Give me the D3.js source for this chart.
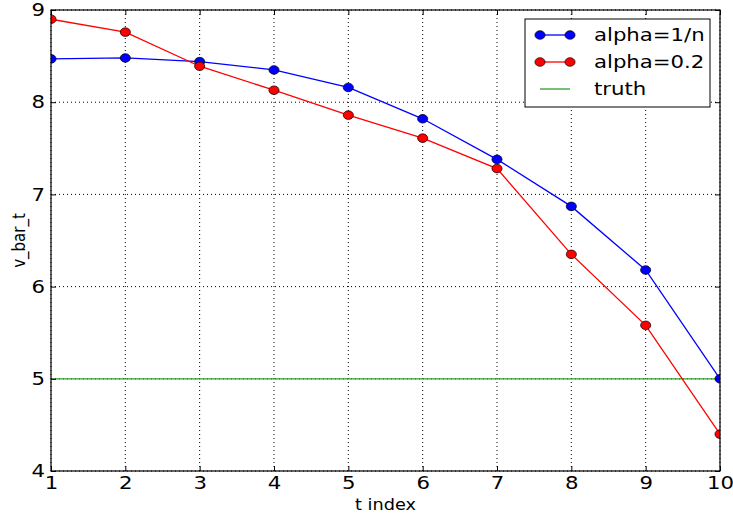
<!DOCTYPE html>
<html>
<head>
<meta charset="utf-8">
<script src="https://cdn.jsdelivr.net/npm/d3@7"></script>
<style>
  body { margin: 0; background: #fff; }
  text { font-family: "DejaVu Sans", sans-serif; }
</style>
</head>
<body>
<script>
const w = 733;
const h = 514;

// values
const tIndex = [1, 2, 3, 4, 5, 6, 7, 8, 9, 10];
const alphaOneOverN = [8.47, 8.48, 8.44, 8.35, 8.16, 7.82, 7.38, 6.87, 6.18, 5.0];
const alphaPoint2 = [8.90, 8.76, 8.39, 8.13, 7.86, 7.61, 7.28, 6.35, 5.58, 4.40];
const truthValue = 5.0;
const xTicks = [1, 2, 3, 4, 5, 6, 7, 8, 9, 10];
const yTicks = [4, 5, 6, 7, 8, 9];

const series = [
  { name: "alpha=1/n", values: alphaOneOverN, color: "#0000ff" },
  { name: "alpha=0.2", values: alphaPoint2, color: "#ff0000" }
];

// the reference picture is a bit wider than tall, so text and markers are stretched sideways
const stretch = 1.18;
const mr = 4.3;

const margin = { left: 51, right: 13, top: 10, bottom: 43 };

const svg = d3.select("body")
  .append("svg")
  .attr("width", w)
  .attr("height", h);

const x = d3.scaleLinear()
  .domain([1, 10])
  .range([margin.left, w - margin.right]);

const y = d3.scaleLinear()
  .domain([4, 9])
  .range([h - margin.bottom, margin.top]);

// grid
const grid = svg.append("g");
grid.selectAll("line.gx")
  .data(xTicks)
  .enter().append("line")
  .attr("x1", d => x(d)).attr("x2", d => x(d))
  .attr("y1", y(4)).attr("y2", y(9))
  .attr("stroke", "#000")
  .attr("stroke-width", 1)
  .attr("stroke-dasharray", "1,3");
grid.selectAll("line.gy")
  .data(yTicks)
  .enter().append("line")
  .attr("x1", x(1)).attr("x2", x(10))
  .attr("y1", d => y(d)).attr("y2", d => y(d))
  .attr("stroke", "#000")
  .attr("stroke-width", 1)
  .attr("stroke-dasharray", "1,3");

// truth line
svg.append("line")
  .attr("x1", x(1)).attr("x2", x(10))
  .attr("y1", y(truthValue)).attr("y2", y(truthValue))
  .attr("stroke", "#2ca02c")
  .attr("stroke-width", 1.3);

const line = d3.line()
  .x((d, i) => x(tIndex[i]))
  .y(d => y(d));

svg.append("clipPath").attr("id", "plotclip")
  .append("rect")
  .attr("x", x(1)).attr("y", y(9))
  .attr("width", x(10) - x(1)).attr("height", y(4) - y(9));

series.forEach(s => {
  const g = svg.append("g").attr("clip-path", "url(#plotclip)");
  g.append("path")
    .datum(s.values)
    .attr("d", line)
    .attr("fill", "none")
    .attr("stroke", s.color)
    .attr("stroke-width", 1.3);
  g.selectAll("ellipse")
    .data(s.values)
    .enter().append("ellipse")
    .attr("cx", (d, i) => x(tIndex[i]))
    .attr("cy", d => y(d))
    .attr("rx", mr * stretch)
    .attr("ry", mr)
    .attr("fill", s.color)
    .attr("stroke", "#000")
    .attr("stroke-width", 0.7);
});

// frame
svg.append("rect")
  .attr("x", x(1)).attr("y", y(9))
  .attr("width", x(10) - x(1)).attr("height", y(4) - y(9))
  .attr("fill", "none")
  .attr("stroke", "#000")
  .attr("stroke-width", 1.2);

// axes, ticks inward on all four sides
const tickLen = 5;
const xAxis = d3.axisBottom(x).tickValues(xTicks).tickSize(-tickLen).tickPadding(5).tickFormat(d3.format("d"));
const xAxisTop = d3.axisTop(x).tickValues(xTicks).tickSize(-tickLen).tickFormat("");
const yAxis = d3.axisLeft(y).tickValues(yTicks).tickSize(-tickLen).tickPadding(5).tickFormat(d3.format("d"));
const yAxisRight = d3.axisRight(y).tickValues(yTicks).tickSize(-tickLen).tickFormat("");

function styleAxis(g) {
  g.select(".domain").remove();
  g.selectAll(".tick line").attr("stroke", "#000").attr("stroke-width", 1);
  g.selectAll(".tick text")
    .attr("fill", "#000")
    .attr("transform", `scale(${stretch},1)`)
    .style("font-family", "DejaVu Sans")
    .style("font-size", "18px");
}

svg.append("g").attr("transform", `translate(0,${y(4)})`).call(xAxis).call(styleAxis);
svg.append("g").attr("transform", `translate(0,${y(9)})`).call(xAxisTop).call(styleAxis);
svg.append("g").attr("transform", `translate(${x(1)},0)`).call(yAxis).call(styleAxis);
svg.append("g").attr("transform", `translate(${x(10)},0)`).call(yAxisRight).call(styleAxis);

// axis labels
svg.append("text")
  .attr("transform", `translate(${(x(1) + x(10)) / 2},510) scale(${stretch},1)`)
  .attr("text-anchor", "middle")
  .style("font-size", "15px")
  .text("t index");

svg.append("text")
  .attr("transform", `translate(25,${(y(4) + y(9)) / 2}) rotate(-90) scale(1,${stretch})`)
  .attr("text-anchor", "middle")
  .style("font-size", "15px")
  .text("v_bar_t");

// legend
const legend = svg.append("g").attr("transform", "translate(525,19)");
legend.append("rect")
  .attr("width", 185).attr("height", 88)
  .attr("fill", "#fff")
  .attr("stroke", "#000")
  .attr("stroke-width", 1);

const legendItems = [
  { name: series[0].name, color: series[0].color, marker: true },
  { name: series[1].name, color: series[1].color, marker: true },
  { name: "truth", color: "#2ca02c", marker: false }
];

legendItems.forEach((d, i) => {
  const yy = 16 + i * 27;
  legend.append("line")
    .attr("x1", 15).attr("x2", 45)
    .attr("y1", yy).attr("y2", yy)
    .attr("stroke", d.color)
    .attr("stroke-width", 1.3);
  if (d.marker) {
    [15, 45].forEach(cx => {
      legend.append("ellipse")
        .attr("cx", cx).attr("cy", yy)
        .attr("rx", mr * stretch).attr("ry", mr)
        .attr("fill", d.color)
        .attr("stroke", "#000")
        .attr("stroke-width", 0.7);
    });
  }
  legend.append("text")
    .attr("transform", `translate(69,${yy}) scale(${stretch},1)`)
    .attr("dy", "0.35em")
    .style("font-size", "18px")
    .text(d.name);
});
</script>
</body>
</html>
